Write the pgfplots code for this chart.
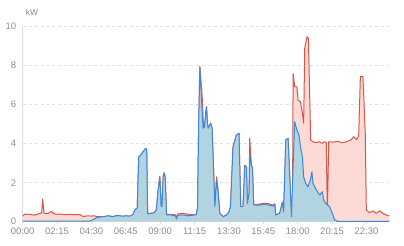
\documentclass[border=0pt]{standalone}
\usepackage{pgfplots}
\usepackage{pgfplotstable}
\pgfplotsset{compat=1.18}
\usepackage{fontspec}
\setmainfont{Liberation Sans}
\definecolor{redline}{RGB}{214,84,72}
\definecolor{redfill}{RGB}{252,218,214}
\definecolor{blueline}{RGB}{62,132,220}
\definecolor{bluefill}{RGB}{178,212,224}
\definecolor{lab}{RGB}{140,140,140}
\definecolor{gridc}{RGB}{222,222,222}
\pgfplotstableread{
h v
0 0.03
4.4 0.03
4.9 0.22
5.3 0.26
5.6 0.30
5.9 0.26
6.2 0.32
6.5 0.28
6.8 0.30
7.0 0.28
7.2 0.35
7.35 0.60
7.5 0.70
7.6 3.30
7.75 3.45
7.9 3.60
8.05 3.76
8.12 3.70
8.18 0.40
8.4 0.43
8.6 0.45
8.75 0.60
8.85 1.50
8.98 2.31
9.06 0.80
9.12 0.77
9.2 2.30
9.26 2.51
9.33 2.30
9.42 0.35
9.7 0.35
10.0 0.30
10.07 0.14
10.15 0.33
10.5 0.35
10.8 0.30
11.1 0.33
11.35 0.35
11.45 0.70
11.52 5.00
11.6 7.95
11.7 6.40
11.81 4.79
11.9 4.85
12.03 5.90
12.1 5.00
12.14 4.79
12.3 5.05
12.4 4.79
12.58 0.77
12.69 2.10
12.79 1.55
12.9 0.43
13.12 0.26
13.34 0.34
13.5 0.50
13.6 0.77
13.77 3.85
13.99 4.45
14.16 4.53
14.27 0.77
14.42 0.77
14.54 2.90
14.65 2.80
14.71 0.94
14.82 1.46
14.86 3.50
14.97 2.90
15.04 2.74
15.12 0.86
15.5 0.85
15.8 0.90
16.1 0.85
16.4 0.80
16.5 0.90
16.56 0.34
16.82 0.43
17.0 1.00
17.08 0.50
17.22 4.19
17.37 4.28
17.48 2.31
17.59 0.26
17.69 2.65
17.80 5.13
17.95 4.70
18.08 4.45
18.18 3.85
18.31 3.33
18.39 2.31
18.52 1.97
18.67 1.79
18.83 2.14
18.93 2.56
19.0 1.97
19.22 1.63
19.44 1.37
19.61 1.54
19.70 1.11
19.83 0.94
20.09 0.77
20.27 0.43
20.42 0.09
20.63 0.02
24 0.02
}\bluedata
\pgfplotstableread{
h v
0 0.29
0.16 0.39
0.48 0.37
0.81 0.34
1.14 0.43
1.25 0.45
1.31 1.16
1.4 0.43
1.68 0.43
1.9 0.53
2.0 0.43
2.2 0.38
2.44 0.39
2.8 0.36
3.1 0.38
3.4 0.36
3.75 0.37
3.97 0.26
4.2 0.30
4.51 0.29
4.7 0.30
4.9 0.26
5.3 0.26
5.6 0.30
5.9 0.26
6.2 0.32
6.5 0.28
6.8 0.30
7.0 0.28
7.2 0.35
7.35 0.60
7.5 0.70
7.6 3.30
7.75 3.45
7.9 3.60
8.05 3.76
8.12 3.70
8.18 0.40
8.4 0.43
8.6 0.45
8.75 0.60
8.85 1.50
8.98 2.31
9.06 0.80
9.12 0.77
9.2 2.30
9.26 2.51
9.33 2.30
9.42 0.35
9.7 0.38
10.0 0.35
10.07 0.20
10.15 0.40
10.5 0.43
10.8 0.38
11.1 0.36
11.35 0.35
11.45 0.70
11.52 5.00
11.6 7.95
11.75 6.40
11.84 4.79
11.9 4.85
12.03 5.90
12.1 5.00
12.14 4.79
12.3 5.05
12.4 4.79
12.58 0.77
12.69 2.30
12.79 1.63
12.9 0.43
13.12 0.26
13.34 0.34
13.5 0.50
13.6 0.77
13.77 3.85
13.99 4.45
14.16 4.53
14.27 0.77
14.42 0.77
14.54 2.90
14.65 2.80
14.71 0.94
14.82 1.46
14.86 4.28
14.97 2.90
15.04 2.74
15.12 0.86
15.5 0.90
15.8 0.95
16.1 0.92
16.4 0.85
16.5 0.92
16.56 0.34
16.82 0.43
17.0 1.00
17.08 0.50
17.22 4.19
17.37 4.28
17.48 2.31
17.59 0.26
17.66 0.30
17.70 7.60
17.80 6.92
17.95 6.92
18.02 6.24
18.18 6.15
18.31 5.56
18.39 5.05
18.46 8.89
18.61 9.49
18.70 9.40
18.85 4.19
19.0 4.10
19.2 4.05
19.4 4.10
19.6 4.02
19.75 4.10
19.87 4.05
19.94 0.45
20.03 4.10
20.3 4.08
20.6 4.12
20.9 4.05
21.2 4.10
21.5 4.20
21.66 4.36
21.85 4.22
21.99 4.40
22.1 7.44
22.27 7.44
22.42 4.53
22.49 0.60
22.7 0.46
22.92 0.56
23.14 0.43
23.36 0.56
23.58 0.43
23.8 0.34
24 0.30
}\reddata
\begin{document}
\begin{tikzpicture}
\path[use as bounding box] (0,0) rectangle (404bp,246bp);
\begin{axis}[
  name=ax,
  at={(22.6bp,24.3bp)}, anchor=south west,
  scale only axis, width=366.8bp, height=195bp,
  xmin=0, xmax=24, ymin=0, ymax=10,
  axis x line=bottom, axis y line=left,
  axis line style={-, draw=gridc, line width=0.8pt},
  xtick={0,2.25,4.5,6.75,9,11.25,13.5,15.75,18,20.25,22.5},
  xticklabels={00:00,02:15,04:30,06:45,09:00,11:15,13:30,15:45,18:00,20:15,22:30},
  ytick={0,2,4,6,8,10},
  tick style={draw=gridc, line width=0.8pt},
  xtick style={draw=gridc},
  major tick length=4bp,
  x tick label style={font=\fontsize{9.5}{11}\selectfont, text=lab, yshift=-1bp},
  y tick label style={font=\fontsize{9.5}{11}\selectfont, text=lab, xshift=-1bp},
  ytick style={draw=none},
  /pgf/number format/assume math mode=true,
  ymajorgrids, grid style={gridc, dashed, line width=0.6pt},
  every axis plot/.append style={line join=round},
]
\addplot[draw=none, fill=redfill] table[x=h,y=v] {\reddata} \closedcycle;
\addplot[redline, line width=1pt] table[x=h,y=v] {\reddata};
\addplot[draw=none, fill=bluefill] table[x=h,y=v] {\bluedata} \closedcycle;
\addplot[blueline, line width=1pt] table[x=h,y=v] {\bluedata};
\end{axis}
\node[anchor=south west, text=lab, font=\fontsize{8.5}{10}\selectfont, inner sep=0pt] at ([xshift=3bp, yshift=11bp]ax.north west) {kW};
\end{tikzpicture}
\end{document}
